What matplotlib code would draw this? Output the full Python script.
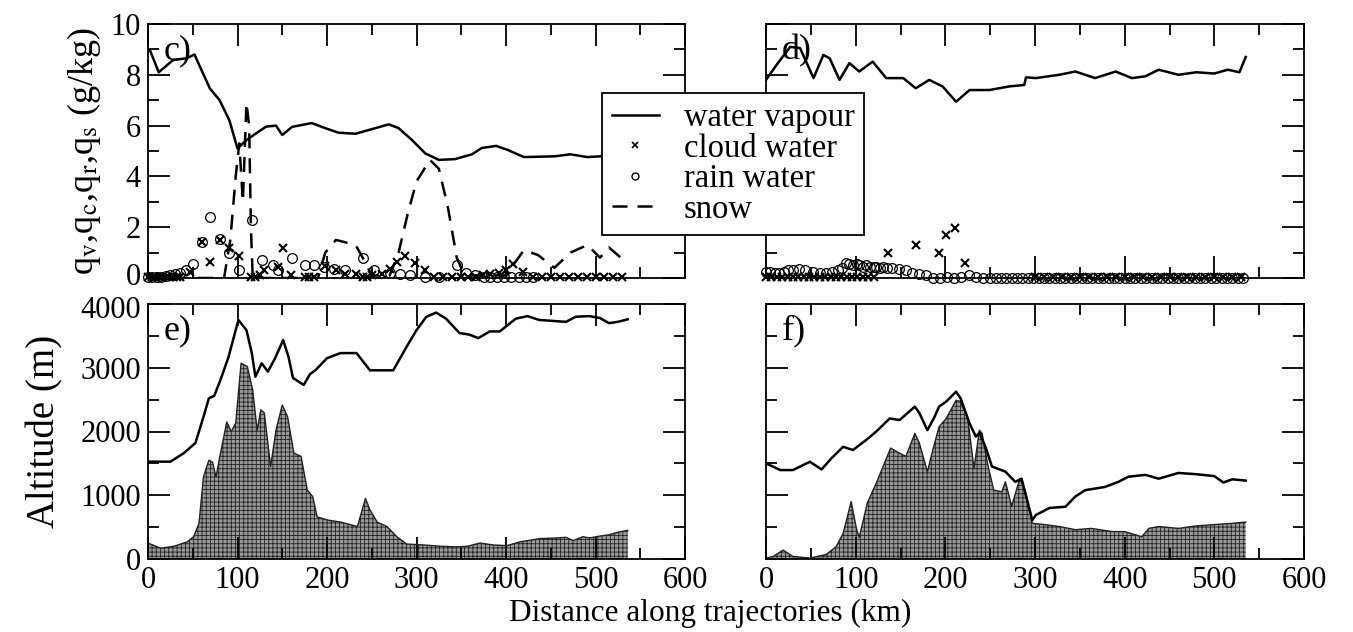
import matplotlib
matplotlib.use("Agg")
import matplotlib.pyplot as plt
import matplotlib.transforms as mtransforms
from matplotlib.lines import Line2D
from matplotlib.ticker import MultipleLocator

plt.rcParams['font.family'] = ['Liberation Serif', 'DejaVu Serif']
plt.rcParams['mathtext.fontset'] = 'stix'
plt.rcParams['hatch.linewidth'] = 0.6

# ---------------- Panel c (left, mixing ratios, g/kg) ----------------
vap_c_x = [0, 2, 12, 28, 43, 52, 57, 69, 80, 91, 100, 110, 121, 132, 143, 150, 161, 183, 198, 213,
           232, 250, 269, 280, 295, 310, 325, 343, 362, 373, 389, 402, 420, 454, 472, 491, 510, 525, 535]
vap_c_y = [9.0, 8.98, 8.1, 8.58, 8.65, 8.8, 8.4, 7.47, 7.0, 6.2, 5.1, 5.43, 5.7, 5.96, 6.0, 5.63, 5.95, 6.1, 5.9, 5.72,
           5.68, 5.86, 6.05, 5.9, 5.43, 4.9, 4.65, 4.68, 4.87, 5.12, 5.2, 5.04, 4.76, 4.79, 4.87, 4.76, 4.8, 4.82, 4.78]

snow_c_x = [0, 40, 85, 92, 98, 102, 106, 110, 113, 115, 117, 150, 190, 198, 210, 221, 232, 243, 250, 270,
            280, 290, 300, 315, 325, 335, 345, 350, 360, 400, 410, 420, 436, 454, 472, 491, 505, 515, 525, 535]
snow_c_y = [0.0, 0.0, 0.0, 1.5, 4.0, 5.3, 3.0, 6.9, 6.0, 2.0, 0.0, 0.0, 0.0, 1.0, 1.5, 1.4, 1.3, 0.6, 0.1, 0.1,
            1.0, 2.5, 3.8, 4.65, 4.3, 2.8, 0.8, 0.4, 0.1, 0.1, 0.6, 1.1, 0.9, 0.4, 1.0, 1.3, 0.8, 1.2, 0.9, 0.6]

cloud_c_x = [0, 4, 8, 12, 16, 20, 24, 28, 32, 36, 47, 60, 69, 80, 90, 102, 115, 120, 125, 130, 145, 151, 160,
             175, 180, 186, 198, 210, 220, 232, 240, 245, 250, 262, 270, 278, 287, 298, 310, 320, 330, 340, 350,
             358, 366, 374, 382, 392, 400, 408, 419, 430, 440, 450, 460, 470, 480, 490, 500, 510, 520, 530]
cloud_c_y = [0.02, 0.02, 0.02, 0.02, 0.02, 0.02, 0.02, 0.02, 0.05, 0.05, 0.25, 1.43, 0.64, 1.5, 1.17, 0.85, 0.02, 0.02,
             0.1, 0.3, 0.45, 1.17, 0.1, 0.02, 0.02, 0.05, 0.46, 0.3, 0.15, 0.15, 0.02, 0.02, 0.1, 0.15, 0.35, 0.64,
             0.85, 0.6, 0.3, 0.05, 0.02, 0.02, 0.02, 0.03, 0.05, 0.1, 0.15, 0.2, 0.3, 0.54, 0.25, 0.05, 0.03, 0.02,
             0.02, 0.02, 0.02, 0.02, 0.02, 0.02, 0.02, 0.02]

rain_c_x = [0, 5, 10, 15, 20, 25, 30, 36, 42, 50, 60, 69, 80, 90, 102, 116, 127, 140, 145, 161, 175, 186, 197,
            208, 220, 240, 253, 270, 282, 293, 310, 325, 345, 355, 365, 375, 382, 390, 398, 406, 414, 422, 430]
rain_c_y = [0.03, 0.03, 0.05, 0.05, 0.08, 0.1, 0.15, 0.2, 0.3, 0.55, 1.4, 2.41, 1.55, 1.0, 0.3, 2.28, 0.7, 0.5,
            0.3, 0.8, 0.5, 0.5, 0.45, 0.35, 0.3, 0.78, 0.3, 0.2, 0.15, 0.1, 0.05, 0.05, 0.5, 0.2, 0.1, 0.05, 0.03,
            0.02, 0.02, 0.02, 0.02, 0.02, 0.02]

# ---------------- Panel d (right, mixing ratios) ----------------
vap_d_x = [0, 12, 27, 38, 53, 64, 71, 82, 93, 104, 119, 134, 153, 167, 182, 197, 212, 227, 249, 271,
           288, 290, 301, 327, 345, 367, 390, 408, 423, 438, 460, 480, 500, 515, 528, 535]
vap_d_y = [7.8, 8.4, 9.1, 9.05, 7.87, 8.78, 8.65, 7.8, 8.46, 8.13, 8.52, 7.87, 7.87, 7.47, 7.8, 7.54, 6.94, 7.4,
           7.4, 7.54, 7.6, 7.9, 7.87, 8.0, 8.13, 7.87, 8.13, 7.87, 7.94, 8.2, 8.0, 8.1, 8.05, 8.2, 8.1, 8.7]

cloud_d_x = [0, 6, 12, 18, 24, 30, 36, 42, 48, 54, 60, 66, 72, 78, 84, 90, 96, 102, 108, 114, 120, 136, 167,
             193, 201, 211, 222, 300, 310, 320, 330, 340, 350, 360, 370, 380, 390, 400, 410, 420, 430, 440,
             450, 460, 470, 480, 490, 500, 510, 520, 530]
cloud_d_y = [0.02, 0.02, 0.02, 0.02, 0.02, 0.02, 0.02, 0.02, 0.02, 0.02, 0.02, 0.02, 0.02, 0.02, 0.02, 0.02,
             0.02, 0.02, 0.02, 0.02, 0.02, 0.98, 1.3, 0.98, 1.69, 1.97, 0.58, 0.02, 0.02, 0.02, 0.02, 0.02,
             0.02, 0.02, 0.02, 0.02, 0.02, 0.02, 0.02, 0.02, 0.02, 0.02, 0.02, 0.02, 0.02, 0.02, 0.02, 0.02,
             0.02, 0.02, 0.02]

rain_d_x = [0, 5, 10, 15, 20, 25, 30, 37, 44, 52, 60, 67, 74, 80, 85, 89, 93, 97, 101, 104, 108, 112, 116, 120,
            123, 127, 131, 135, 141, 148, 156, 163, 171, 178, 186, 194, 202, 210, 218, 226, 234, 242, 250,
            256, 262, 268, 274, 280, 286, 292, 298, 304, 310, 316, 322, 328, 334, 340, 346, 352, 358, 364,
            370, 376, 382, 388, 394, 400, 406, 412, 418, 424, 430, 436, 442, 448, 454, 460, 466, 472, 478,
            484, 490, 496, 502, 508, 514, 520, 526, 532]
rain_d_y = [0.25, 0.22, 0.2, 0.2, 0.25, 0.3, 0.32, 0.35, 0.3, 0.25, 0.2, 0.2, 0.25, 0.3, 0.4, 0.6, 0.55, 0.5,
            0.55, 0.5, 0.45, 0.5, 0.45, 0.45, 0.45, 0.4, 0.45, 0.4, 0.4, 0.35, 0.3, 0.2, 0.15, 0.1, 0.0, 0.0,
            0.05, 0.0, 0.05, 0.1, 0.05, 0.0, 0.0, 0.0, 0.0, 0.0, 0.0, 0.0, 0.0, 0.0, 0.0, 0.0, 0.0, 0.0,
            0.0, 0.0, 0.0, 0.0, 0.0, 0.0, 0.0, 0.0, 0.0, 0.0, 0.0, 0.0, 0.0, 0.0, 0.0, 0.0, 0.0, 0.0, 0.0,
            0.0, 0.0, 0.0, 0.0, 0.0, 0.0, 0.0, 0.0, 0.0, 0.0, 0.0, 0.0, 0.0, 0.0, 0.0, 0.0, 0.0]

# ---------------- Panel e (left, altitude, m) ----------------
traj_e_x = [0, 25, 40, 53, 62, 68, 74, 81, 90, 101, 110, 116, 120, 127, 134, 142, 151, 157, 162, 174, 181, 187,
            200, 215, 233, 248, 259, 274, 289, 300, 311, 322, 333, 348, 359, 369, 382, 393, 411, 424, 437,
            467, 478, 493, 505, 515, 525, 536]
traj_e_y = [1527, 1527, 1660, 1820, 2230, 2520, 2560, 2810, 3170, 3750, 3590, 3230, 2860, 3070, 2940, 3150,
            3435, 3170, 2840, 2730, 2900, 2960, 3150, 3230, 3230, 2960, 2960, 2960, 3330, 3590, 3800, 3865,
            3770, 3545, 3520, 3465, 3570, 3570, 3770, 3810, 3750, 3720, 3800, 3810, 3780, 3700, 3720, 3760]

terr_e_x = [0, 14, 29, 44, 51, 57, 62, 68, 72, 76, 81, 88, 93, 98, 104, 111, 117, 122, 126, 130, 137, 143, 150,
            156, 163, 171, 178, 184, 189, 201, 215, 234, 243, 248, 256, 267, 278, 289, 308, 327, 345, 357,
            371, 386, 401, 416, 438, 457, 467, 475, 486, 493, 505, 515, 525, 536]
terr_e_y = [250, 170, 200, 270, 350, 560, 1290, 1550, 1520, 1290, 1660, 2150, 2000, 2130, 3070, 3020, 2650,
            2020, 2340, 2290, 1450, 2020, 2415, 2230, 1660, 1610, 1080, 980, 660, 610, 580, 510, 950, 770,
            580, 510, 350, 235, 220, 200, 190, 200, 250, 220, 210, 270, 320, 330, 340, 290, 350, 330, 360,
            380, 420, 450]

# ---------------- Panel f (right, altitude, m) ----------------
traj_f_x = [0, 16, 30, 49, 62, 73, 86, 97, 112, 123, 138, 149, 166, 171, 180, 188, 193, 201, 212, 217, 227,
            234, 238, 245, 252, 267, 278, 285, 297, 301, 316, 334, 345, 356, 378, 393, 404, 423, 438, 460,
            480, 500, 510, 520, 535]
traj_f_y = [1500, 1395, 1395, 1525, 1405, 1580, 1760, 1710, 1870, 2000, 2205, 2180, 2390, 2290, 2020, 2230,
            2390, 2470, 2625, 2520, 2130, 1920, 1980, 1750, 1450, 1370, 1210, 1260, 610, 690, 800, 820, 980,
            1080, 1130, 1210, 1290, 1320, 1260, 1350, 1330, 1300, 1200, 1250, 1230]

terr_f_x = [0, 8, 19, 30, 49, 67, 78, 86, 95, 101, 104, 108, 113, 123, 132, 139, 149, 156, 166, 171, 180, 186,
            193, 201, 212, 217, 225, 232, 238, 241, 247, 254, 263, 267, 274, 283, 289, 297, 308, 327, 345,
            363, 386, 400, 419, 427, 438, 460, 480, 500, 520, 535]
terr_f_y = [15, 40, 140, 40, 15, 70, 190, 400, 900, 470, 340, 580, 880, 1190, 1500, 1740, 1660, 1610, 1970,
            1820, 1370, 1710, 2075, 2205, 2490, 2470, 2205, 1420, 2020, 1970, 1500, 1080, 1055, 1210, 830,
            1260, 1080, 560, 545, 510, 460, 480, 430, 430, 350, 480, 510, 480, 520, 540, 560, 580]

y_ticks_top = [0, 2, 4, 6, 8, 10]
y_ticks_bottom = [0, 1000, 2000, 3000, 4000]

# ---------------- Figure ----------------
W, H = 1353, 632
fig = plt.figure(figsize=(W / 100, H / 100), dpi=100)

def ax_at(l, t, r, b):
    return fig.add_axes([l / W, 1 - b / H, (r - l) / W, (b - t) / H])

ax_c = ax_at(148, 24, 685, 278)
ax_d = ax_at(766, 24, 1304, 278)
ax_e = ax_at(148, 304, 685, 559)
ax_f = ax_at(766, 304, 1304, 559)

FS = 22

def style(ax, top, showy):
    ax.set_xlim(0, 600)
    ax.xaxis.set_major_locator(MultipleLocator(100))
    ax.xaxis.set_minor_locator(MultipleLocator(50))
    if top:
        ax.set_ylim(0, 10)
        ax.set_yticks(y_ticks_top)
        ax.yaxis.set_minor_locator(MultipleLocator(1))
    else:
        ax.set_ylim(0, 4000)
        ax.set_yticks(y_ticks_bottom)
        ax.yaxis.set_minor_locator(MultipleLocator(500))
    ax.tick_params(which='both', direction='in', top=True, right=True, width=1.3, labelsize=FS)
    ax.tick_params(which='major', length=16, pad=5)
    ax.tick_params(which='minor', length=8)
    if top:
        ax.tick_params(labelbottom=False)
    if not showy:
        ax.tick_params(labelleft=False)
    for s in ax.spines.values():
        s.set_linewidth(1.3)

for ax, (vx, vy, sx, sy, cx, cy, rx, ry) in [
        (ax_c, (vap_c_x, vap_c_y, snow_c_x, snow_c_y, cloud_c_x, cloud_c_y, rain_c_x, rain_c_y)),
        (ax_d, (vap_d_x, vap_d_y, None, None, cloud_d_x, cloud_d_y, rain_d_x, rain_d_y))]:
    ax.plot(vx, vy, color='black', lw=1.8)
    if sx is not None:
        ax.plot(sx, sy, color='black', lw=1.8, linestyle=(0, (6, 4)))
    ax.plot(rx, ry, linestyle='none', marker='o', ms=7, mfc='none', mec='black', mew=0.9, clip_on=False)
    ax.plot(cx, cy, linestyle='none', marker='x', ms=6, color='black', mew=1.5, clip_on=False)

for ax, tx, ty, gx, gy in [(ax_e, traj_e_x, traj_e_y, terr_e_x, terr_e_y),
                           (ax_f, traj_f_x, traj_f_y, terr_f_x, terr_f_y)]:
    ax.fill_between(gx, 0, gy, facecolor='#9a9a9a', edgecolor='#222222', hatch='++++', linewidth=0)
    ax.plot(gx, gy, color='#222222', lw=1.0)
    ax.plot(tx, ty, color='black', lw=1.8)

style(ax_c, True, True)
style(ax_d, True, False)
style(ax_e, False, True)
style(ax_f, False, False)

# nudge the two touching labels ("0" of the top panel, "4000" of the bottom panel) apart slightly
lab0 = ax_c.yaxis.get_major_ticks()[0].label1
lab0.set_transform(lab0.get_transform() + mtransforms.ScaledTranslation(0, 3 / 72, fig.dpi_scale_trans))
lab4 = ax_e.yaxis.get_major_ticks()[-1].label1
lab4.set_transform(lab4.get_transform() + mtransforms.ScaledTranslation(0, -2 / 72, fig.dpi_scale_trans))

for ax, lab in [(ax_c, 'c)'), (ax_d, 'd)'), (ax_e, 'e)'), (ax_f, 'f)')]:
    ax.text(0.03, 0.96, lab, transform=ax.transAxes, fontsize=26, va='top', ha='left')

fig.text(84 / W, 1 - 151 / H, r'q$_\mathrm{v}$,q$_\mathrm{c}$,q$_\mathrm{r}$,q$_\mathrm{s}$ (g/kg)',
         fontsize=26, rotation=90, ha='center', va='center')
fig.text(45 / W, 1 - 431 / H, 'Altitude (m)', fontsize=28, rotation=90, ha='center', va='center')
fig.text(710 / W, 1 - 613 / H, 'Distance along trajectories (km)', fontsize=22.5, ha='center', va='center')

handles = [Line2D([], [], color='black', lw=1.8),
           Line2D([], [], linestyle='none', marker='x', ms=5, color='black', mew=1.2),
           Line2D([], [], linestyle='none', marker='o', ms=5, mfc='none', mec='black', mew=1.0),
           Line2D([], [], color='black', lw=1.8, linestyle=(0, (6, 4)))]
leg = fig.legend(handles, ['water vapour', 'cloud water', 'rain water', 'snow'],
                 loc='upper left', bbox_to_anchor=(602 / W, 1 - 93 / H), fontsize=23.5,
                 frameon=True, fancybox=False, framealpha=1, edgecolor='black',
                 handlelength=1.45, handletextpad=0.75, labelspacing=0.0, borderpad=0.3,
                 borderaxespad=0)
leg.get_frame().set_linewidth(1.3)
leg.set_zorder(10)

fig.savefig('out.png', dpi=100)
